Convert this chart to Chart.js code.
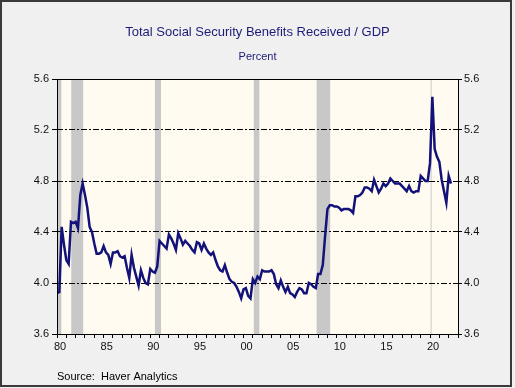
<!DOCTYPE html>
<html>
<head>
<meta charset="utf-8">
<script src="https://cdn.jsdelivr.net/npm/chart.js@4.4.0/dist/chart.umd.min.js"></script>
<style>
    html, body { margin: 0; padding: 0; background: #f0f0f0; }
</style>
</head>
<body>
<canvas id="ssChart" width="515" height="388"></canvas>
<script>
// Quarterly data, first point is 1980 Q1
const startYear = 1980;
const benefitsShare = [
    3.92, 3.93, 4.44, 4.30,   // 1980
    4.18, 4.15, 4.48, 4.47,
    4.48, 4.43, 4.69, 4.78,
    4.69, 4.59, 4.44, 4.40,
    4.31, 4.23, 4.23, 4.24,
    4.29, 4.24, 4.22, 4.15,   // 1985
    4.24, 4.24, 4.25, 4.21,
    4.20, 4.21, 4.12, 4.04,
    4.22, 4.12, 4.05, 3.98,
    4.10, 4.04, 4.00, 3.99,
    4.11, 4.09, 4.08, 4.13,   // 1990
    4.33, 4.31, 4.29, 4.27,
    4.38, 4.35, 4.31, 4.26,
    4.39, 4.35, 4.30, 4.33,
    4.31, 4.29, 4.26, 4.24,
    4.32, 4.31, 4.26, 4.31,   // 1995
    4.27, 4.24, 4.22, 4.24,
    4.18, 4.13, 4.10, 4.09,
    4.14, 4.08, 4.03, 4.01,
    4.00, 3.97, 3.93, 3.88,
    3.95, 3.96, 3.90, 3.88,   // 2000
    4.03, 4.00, 4.05, 4.03,
    4.10, 4.09, 4.09, 4.09,
    4.10, 4.07, 3.99, 3.96,
    4.02, 3.97, 3.93, 3.97,
    3.92, 3.91, 3.89, 3.93,   // 2005
    3.96, 3.95, 3.92, 3.92,
    4.00, 3.99, 3.97, 3.96,
    4.07, 4.07, 4.14, 4.37,
    4.58, 4.61, 4.61, 4.60,
    4.60, 4.59, 4.57, 4.58,   // 2010
    4.58, 4.58, 4.57, 4.55,
    4.68, 4.68, 4.69, 4.71,
    4.75, 4.75, 4.74, 4.72,
    4.81, 4.76, 4.71, 4.74,
    4.78, 4.76, 4.78, 4.82,   // 2015
    4.80, 4.78, 4.78, 4.78,
    4.76, 4.74, 4.72, 4.76,
    4.72, 4.71, 4.72, 4.72,
    4.84, 4.82, 4.80, 4.80,
    4.94, 5.46, 5.05, 4.99,   // 2020
    4.95, 4.81, 4.72, 4.63,
    4.84, 4.78
];

// Recession shading (decimal years)
const recessionStart = [1980.0, 1981.53, 1990.5, 2001.1, 2007.84, 2020.06];
const recessionEnd   = [1980.46, 1982.81, 1991.15, 2001.7, 2009.3, 2020.12];

const xTickYears = [1980, 1985, 1990, 1995, 2000, 2005, 2010, 2015, 2020];
const yTicks = [3.6, 4.0, 4.4, 4.8, 5.2, 5.6];

const FONT = "'Liberation Sans', Arial, sans-serif";

const points = benefitsShare.map((v, i) => ({ x: startYear + i / 4, y: v }));

// paints the grey page, cream plot area and recession bars, then frames
const haverFrame = {
    id: 'haverFrame',
    beforeDraw(chart) {
        const { ctx, chartArea: a, scales: { x } } = chart;
        ctx.save();
        ctx.fillStyle = '#f0f0f0';
        ctx.fillRect(0, 0, chart.width, chart.height);
        ctx.fillStyle = '#fffbf0';
        ctx.fillRect(a.left, a.top, a.right - a.left, a.bottom - a.top);
        ctx.fillStyle = '#c8c8c8';
        recessionStart.forEach((s, i) => {
            const x1 = x.getPixelForValue(s);
            const x2 = x.getPixelForValue(recessionEnd[i]);
            ctx.fillRect(x1, a.top, Math.max(x2 - x1, 1), a.bottom - a.top);
        });
        ctx.restore();
    },
    afterDraw(chart) {
        const { ctx, chartArea: a } = chart;
        ctx.save();
        ctx.strokeStyle = '#000';
        ctx.lineWidth = 1;
        ctx.strokeRect(Math.round(a.left) + 0.5, Math.round(a.top) + 0.5,
            Math.round(a.right - a.left), Math.round(a.bottom - a.top));
        ctx.strokeStyle = '#3a3a3a';
        ctx.lineWidth = 2;
        ctx.strokeRect(1, 1, 510, 385);
        ctx.restore();
    }
};

const yAxis = (position, tickLength, pad) => ({
    type: 'linear',
    position: position,
    min: 3.6,
    max: 5.6,
    afterBuildTicks: scale => { scale.ticks = yTicks.map(v => ({ value: v })); },
    afterFit: scale => { scale.width = 57; },
    border: { display: false, dash: [6, 2, 2, 2] },
    grid: {
        drawOnChartArea: position === 'left',
        color: c => (c.tick && c.tick.value > 3.7 && c.tick.value < 5.5) ? '#000' : 'rgba(0,0,0,0)',
        lineWidth: 1,
        tickColor: '#000',
        tickLength: tickLength
    },
    ticks: {
        padding: pad,
        color: '#111',
        font: { family: FONT, size: 11 },
        callback: v => v.toFixed(1)
    }
});

new Chart(document.getElementById('ssChart'), {
    type: 'line',
    data: {
        datasets: [{
            data: points,
            borderColor: '#12127a',
            borderWidth: 2.5,
            pointRadius: 0,
            tension: 0,
            fill: false
        }]
    },
    options: {
        responsive: false,
        animation: false,
        layout: { padding: 0 },
        plugins: {
            legend: { display: false },
            tooltip: { enabled: false },
            title: {
                display: true,
                text: 'Total Social Security Benefits Received / GDP',
                color: '#1c1c78',
                font: { family: FONT, size: 13, weight: 'normal' },
                padding: { top: 25, bottom: 10 }
            },
            subtitle: {
                display: true,
                text: 'Percent',
                color: '#1c1c78',
                font: { family: FONT, size: 11 },
                padding: { top: 0, bottom: 15.2 }
            }
        },
        scales: {
            x: {
                type: 'linear',
                min: 1980,
                max: 2023,
                afterFit: scale => { scale.height = 54; },
                border: { display: false },
                grid: {
                    drawOnChartArea: false,
                    tickColor: '#000',
                    tickLength: 4
                },
                ticks: {
                    stepSize: 1,
                    autoSkip: false,
                    maxRotation: 0,
                    padding: 2,
                    labelOffset: 3,
                    color: '#111',
                    font: { family: FONT, size: 11 },
                    callback: v => xTickYears.includes(v) ? String(v).slice(2) : ''
                },
                title: {
                    display: true,
                    text: 'Source:  Haver Analytics',
                    align: 'start',
                    color: '#000',
                    font: { family: FONT, size: 11 },
                    padding: { top: 0, bottom: 4 }
                }
            },
            y: yAxis('left', 5, 3),
            y2: yAxis('right', 4, 2)
        }
    },
    plugins: [haverFrame]
});
</script>
</body>
</html>
